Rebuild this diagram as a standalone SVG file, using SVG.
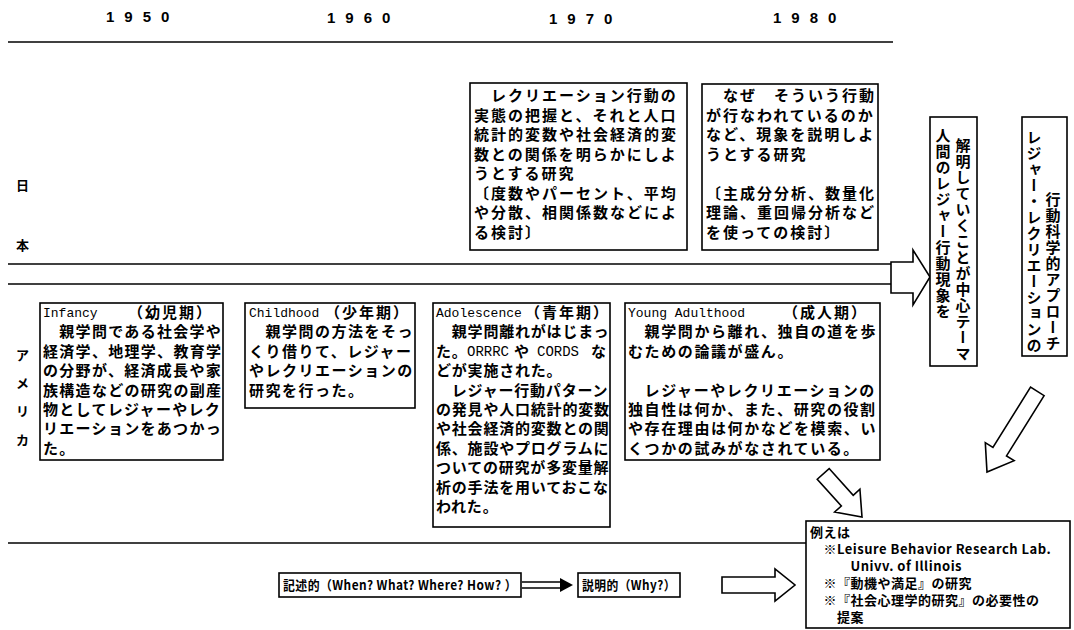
<svg xmlns="http://www.w3.org/2000/svg" width="1074" height="630" viewBox="0 0 1074 630">
<style>
.bg{fill:#fff}
.ln{stroke:#000;stroke-width:1.6;fill:none}
.box{fill:#fff;stroke:#000;stroke-width:1.6}
.ha{fill:#fff;stroke:#000;stroke-width:1.6;stroke-linejoin:miter}
.yr{font-family:"Liberation Sans",sans-serif;font-weight:bold;font-size:15px;letter-spacing:10px;fill:#000}
.t{font-family:"Noto Sans CJK JP",sans-serif;font-weight:bold;font-size:15px;letter-spacing:2px;fill:#000}
.lab{font-family:"Noto Sans CJK JP",sans-serif;font-weight:bold;font-size:13px;fill:#000}
.lat{font-family:"Liberation Mono","Noto Sans CJK JP",monospace;font-size:13px;letter-spacing:0;fill:#000}
.v{font-family:"Noto Sans CJK JP",sans-serif;font-weight:bold;font-size:15px;letter-spacing:1px;writing-mode:vertical-rl;fill:#000}
.s{font-family:"Noto Sans CJK JP",sans-serif;font-weight:bold;font-size:13px;letter-spacing:0.5px;fill:#000}
</style>
<defs>
<polygon id="shortArrow" points="-58,-8 -22,-8 -22,-17 0,0 -22,17 -22,8 -58,8"/>
<polygon id="longArrow" points="-95,-8 -24,-8 -24,-17 0,0 -24,17 -24,8 -95,8"/>
</defs>
<rect class="bg" x="0" y="0" width="1074" height="630"/>

<g id="years">
<text class="yr" x="106" y="22">1950</text>
<text class="yr" x="327" y="23">1960</text>
<text class="yr" x="549" y="24">1970</text>
<text class="yr" x="773" y="23">1980</text>
</g>

<g id="region-labels">
<text class="lab" x="16" y="190">日</text>
<text class="lab" x="16" y="250">本</text>
<text class="lab" x="16" y="360">ア</text>
<text class="lab" x="16" y="388">メ</text>
<text class="lab" x="16" y="416">リ</text>
<text class="lab" x="16" y="445">カ</text>
</g>

<g id="connectors">
<line class="ln" x1="8" y1="42" x2="893" y2="42"/>
<line class="ln" x1="8" y1="264" x2="893" y2="264"/>
<line class="ln" x1="8" y1="284" x2="893" y2="284"/>
<line class="ln" x1="8" y1="543" x2="808" y2="543"/>
<polygon class="ha" points="891,262 913,262 913,250 930,277 913,305 913,293 891,293"/>
<use href="#shortArrow" class="ha" transform="translate(862,517) rotate(48)"/>
<use href="#longArrow" class="ha" transform="translate(987,472) rotate(122)"/>
<polygon class="ha" points="722,577 775,577 775,569 795,585 775,601 775,593 722,593"/>
<path class="ln" d="M522,582 H563 M522,588 H563"/>
<path d="M560,578 L573,585 L560,592 Z" fill="#000"/>
</g>

<g id="japan-descriptive">
<rect class="box" x="470" y="83" width="217" height="167"/>
<text class="t" x="474" y="101">
<tspan x="474">　レクリエーション行動の</tspan>
<tspan x="474" dy="19.5">実態の把握と、それと人口</tspan>
<tspan x="474" dy="19.5">統計的変数や社会経済的変</tspan>
<tspan x="474" dy="19.5">数との関係を明らかにしよ</tspan>
<tspan x="474" dy="19.5">うとする研究</tspan>
<tspan x="474" dy="19.5">〔度数やパーセント、平均</tspan>
<tspan x="474" dy="19.5">や分散、相関係数などによ</tspan>
<tspan x="474" dy="19.5">る検討〕</tspan>
</text>
</g>

<g id="japan-explanatory">
<rect class="box" x="702" y="84" width="176" height="166"/>
<text class="t" x="706" y="101">
<tspan x="706">　なぜ　そういう行動</tspan>
<tspan x="706" dy="19.5">が行なわれているのか</tspan>
<tspan x="706" dy="19.5">など、現象を説明しよ</tspan>
<tspan x="706" dy="19.5">うとする研究</tspan>
<tspan x="706" dy="39">〔主成分分析、数量化</tspan>
<tspan x="706" dy="19.5">理論、重回帰分析など</tspan>
<tspan x="706" dy="19.5">を使っての検討〕</tspan>
</text>
</g>

<g id="theme">
<rect class="box" x="930" y="117" width="47" height="249"/>
<text class="v" x="963" y="138">解明していくことが中心テーマ</text>
<text class="v" x="943" y="128">人間のレジャー行動現象を</text>
</g>

<g id="approach">
<rect class="box" x="1022" y="117" width="45" height="239"/>
<text class="v" x="1034" y="130">レジャー・レクリエーションの</text>
<text class="v" x="1053" y="192">行動科学的アプローチ</text>
</g>

<g id="infancy">
<rect class="box" x="40" y="303" width="183" height="157"/>
<text class="lat" x="43" y="317">Infancy</text>
<text class="t" x="128" y="318">（幼児期）</text>
<text class="t" x="43" y="318" style="letter-spacing:1.3px">
<tspan x="43" dy="19.4">　親学問である社会学や</tspan>
<tspan x="43" dy="19.4">経済学、地理学、教育学</tspan>
<tspan x="43" dy="19.4">の分野が、経済成長や家</tspan>
<tspan x="43" dy="19.4">族構造などの研究の副産</tspan>
<tspan x="43" dy="19.4">物としてレジャーやレク</tspan>
<tspan x="43" dy="19.4">リエーションをあつかっ</tspan>
<tspan x="43" dy="19.4">た。</tspan>
</text>
</g>

<g id="childhood">
<rect class="box" x="245" y="303" width="170" height="105"/>
<text class="lat" x="249" y="317">Childhood</text>
<text class="t" x="325" y="318">（少年期）</text>
<text class="t" x="249" y="318" style="letter-spacing:1.5px">
<tspan x="249" dy="19.4">　親学問の方法をそっ</tspan>
<tspan x="249" dy="19.4">くり借りて、レジャー</tspan>
<tspan x="249" dy="19.4">やレクリエーションの</tspan>
<tspan x="249" dy="19.4">研究を行った。</tspan>
</text>
</g>

<g id="adolescence">
<rect class="box" x="433" y="303" width="177" height="224"/>
<text class="lat" x="436" y="317">Adolescence</text>
<text class="t" x="525" y="318">（青年期）</text>
<text class="t" x="436" y="318" style="letter-spacing:0.8px">
<tspan x="436" dy="19.4">　親学問離れがはじまっ</tspan>
<tspan x="436" dy="19.4">た。</tspan>
<tspan x="436" dy="19.4">どが実施された。</tspan>
<tspan x="436" dy="19.4">　レジャー行動パターン</tspan>
<tspan x="436" dy="19.4">の発見や人口統計的変数</tspan>
<tspan x="436" dy="19.4">や社会経済的変数との関</tspan>
<tspan x="436" dy="19.4">係、施設やプログラムに</tspan>
<tspan x="436" dy="19.4">ついての研究が多変量解</tspan>
<tspan x="436" dy="19.4">析の手法を用いておこな</tspan>
<tspan x="436" dy="19.4">われた。</tspan>
</text>
<text class="lat" x="467" y="356" style="font-size:14px">ORRRC</text>
<text class="t" x="514" y="356.8">や</text>
<text class="lat" x="537" y="356" style="font-size:14px">CORDS</text>
<text class="t" x="591" y="356.8">な</text>
</g>

<g id="young-adulthood">
<rect class="box" x="625" y="303" width="255" height="157"/>
<text class="lat" x="628" y="317">Young Adulthood</text>
<text class="t" x="783" y="318">（成人期）</text>
<text class="t" x="628" y="318" style="letter-spacing:1.6px">
<tspan x="628" dy="19.4">　親学問から離れ、独自の道を歩</tspan>
<tspan x="628" dy="19.4">むための論議が盛ん。</tspan>
<tspan x="628" dy="38.8">　レジャーやレクリエーションの</tspan>
<tspan x="628" dy="19.4">独自性は何か、また、研究の役割</tspan>
<tspan x="628" dy="19.4">や存在理由は何かなどを模索、い</tspan>
<tspan x="628" dy="19.4">くつかの試みがなされている。</tspan>
</text>
</g>

<g id="descriptive">
<rect class="box" x="279" y="573" width="242" height="24"/>
<text class="s" x="283" y="590" textLength="234" lengthAdjust="spacingAndGlyphs">記述的（When? What? Where? How? ）</text>
</g>

<g id="explanatory">
<rect class="box" x="578" y="573" width="102" height="24"/>
<text class="s" x="582" y="590" textLength="94" lengthAdjust="spacingAndGlyphs">説明的（Why?）</text>
</g>

<g id="examples">
<rect class="box" x="806" y="521" width="264" height="107"/>
<text class="s" x="810" y="537">
<tspan x="810">例えは</tspan>
<tspan x="810" dy="17">　※Leisure Behavior Research Lab.</tspan>
<tspan x="810" dy="17">　　　Univv. of Illinois</tspan>
<tspan x="810" dy="17">　※『動機や満足』の研究</tspan>
<tspan x="810" dy="17">　※『社会心理学的研究』の必要性の</tspan>
<tspan x="810" dy="17">　　提案</tspan>
</text>
</g>
</svg>
